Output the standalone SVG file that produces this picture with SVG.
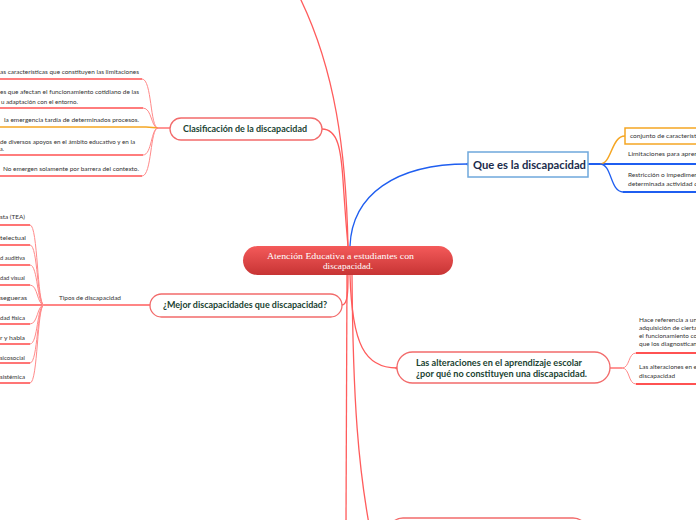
<svg xmlns="http://www.w3.org/2000/svg" width="696" height="520" viewBox="0 0 696 520">
<defs>
<linearGradient id="cg" x1="0" y1="0" x2="0" y2="1">
<stop offset="0" stop-color="#f45a5a"/>
<stop offset="1" stop-color="#c73434"/>
</linearGradient>
<style>
.r{fill:none;stroke:#ff5c5c;stroke-width:1.3}
.rl{fill:none;stroke:#ff8a8a;stroke-width:1}
.ru{fill:none;stroke:#ff5252;stroke-width:1.6}
.b{fill:none;stroke:#1f5ef0;stroke-width:1.3}
.bu{fill:none;stroke:#1f5ef0;stroke-width:2}
.o{fill:none;stroke:#f5a623;stroke-width:1.5}
.node{fill:#fff;stroke:#f26b6b;stroke-width:1.3}
.t{font-family:Lato,"Open Sans",sans-serif;font-size:6.5px;fill:#333}
.ts{font-family:Lato,"Open Sans",sans-serif;font-size:6px;fill:#333}
.h{font-family:Lato,"Open Sans",sans-serif;font-weight:bold;font-size:8.5px;fill:#1b4332}
.c{font-family:"Liberation Serif",serif;font-size:8.5px;fill:#fff}
</style>
</defs>
<rect width="696" height="520" fill="#fff"/>
<g id="connectors">
<path class="r" d="M348,246 C346,150 335,70 300,-2"/>
<path class="r" d="M322,129 C338,129 341,150 343,180 C345,210 347,235 348,246"/>
<path class="r" d="M342,305 C348,305 348,290 348,275"/>
<path class="b" d="M350,246 C352,195 395,164 468,164"/>
<circle cx="468" cy="164" r="1.6" fill="#1f5ef0"/>
<path class="r" d="M350,275 C352,345 365,368 397,368"/>
<circle cx="397" cy="368" r="1.6" fill="#ff5c5c"/>
<path class="r" d="M347,275 L346,522"/>
<path class="r" d="M352,275 C353,400 358,470 372,540"/>
<!-- classification branches -->
<path class="r" d="M157,128 H170"/>
<path class="ru" d="M0,79 H142"/><path class="rl" d="M142,79 C152,79 150,128 158,128"/>
<path class="ru" d="M0,108 H143"/><path class="rl" d="M143,108 C152,108 151,128 158,128"/>
<path class="o" d="M0,127 H146 C152,127 153,128 158,128"/>
<path class="ru" d="M0,155 H143"/><path class="rl" d="M143,155 C152,155 151,128 158,128"/>
<path class="ru" d="M0,176 H142"/><path class="rl" d="M142,176 C152,176 150,128 158,128"/>
<!-- types branches -->
<path class="r" d="M42,305 H150"/>
<path class="ru" d="M0,225 H30"/><path class="rl" d="M30,225 C38,225 37,305 44,305"/>
<path class="ru" d="M0,245 H30"/><path class="rl" d="M30,245 C38,245 37,305 44,305"/>
<path class="ru" d="M0,265 H30"/><path class="rl" d="M30,265 C38,265 37,305 44,305"/>
<path class="ru" d="M0,285 H30"/><path class="rl" d="M30,285 C38,285 37,305 44,305"/>
<path class="ru" d="M0,305 H42"/>
<path class="ru" d="M0,324 H30"/><path class="rl" d="M30,324 C38,324 37,305 44,305"/>
<path class="ru" d="M0,344 H30"/><path class="rl" d="M30,344 C38,344 37,305 44,305"/>
<path class="ru" d="M0,363 H30"/><path class="rl" d="M30,363 C38,363 37,305 44,305"/>
<path class="ru" d="M0,383 H30"/><path class="rl" d="M30,383 C38,383 37,305 44,305"/>
<!-- blue branches -->
<path class="bu" d="M588,164 H696"/>
<path class="o" d="M600,164 C612,164 611,136 625,136"/>
<path class="b" d="M600,164 C612,164 610,192 623,192"/>
<path class="bu" d="M623,192 H696"/>
<!-- alteraciones branches -->
<path class="r" d="M610,368 H622"/>
<path class="rl" d="M622,368 C630,368 628,353 636,353"/>
<path class="ru" d="M636,353 H696" style="stroke-width:2"/>
<path class="rl" d="M622,368 C630,368 628,384 636,384"/>
<path class="ru" d="M636,384 H696" style="stroke-width:2"/>
</g>
<g id="center">
<rect x="243" y="246" width="210" height="29" rx="14.5" fill="url(#cg)"/>
<text class="c" x="267" y="259" textLength="147" lengthAdjust="spacingAndGlyphs">Atención Educativa a estudiantes con</text>
<text class="c" x="323" y="268.5" textLength="50" lengthAdjust="spacingAndGlyphs">discapacidad.</text>
</g>
<g id="clasificacion">
<rect class="node" x="170" y="118" width="152" height="22" rx="11"/>
<text class="h" x="183" y="131.5" textLength="124" lengthAdjust="spacingAndGlyphs">Clasificación de la discapacidad</text>
</g>
<g id="clas-items">
<text class="t" x="0" y="74" textLength="139" lengthAdjust="spacingAndGlyphs">as características que constituyen  las limitaciones</text>
<text class="t" x="0" y="94" textLength="139" lengthAdjust="spacingAndGlyphs">es que afectan el funcionamiento cotidiano de las</text>
<text class="t" x="1" y="104" textLength="77" lengthAdjust="spacingAndGlyphs">u adaptación con el entorno.</text>
<text class="t" x="4" y="122" textLength="135" lengthAdjust="spacingAndGlyphs">la emergencia tardía de determinados procesos.</text>
<text class="t" x="0" y="144" textLength="135" lengthAdjust="spacingAndGlyphs">de diversos apoyos en el ámbito educativo y en la</text>
<text class="t" x="0" y="151" textLength="4" lengthAdjust="spacingAndGlyphs">a.</text>
<text class="t" x="3" y="171" textLength="136" lengthAdjust="spacingAndGlyphs">No emergen solamente por barrera del contexto.</text>
</g>
<g id="mejor">
<rect class="node" x="150" y="294" width="192" height="23" rx="11.5"/>
<text class="h" x="163" y="308" textLength="164" lengthAdjust="spacingAndGlyphs">¿Mejor discapacidades que discapacidad?</text>
</g>
<g id="tipos">
<text class="t" x="59" y="300" textLength="62" lengthAdjust="spacingAndGlyphs">Tipos de discapacidad</text>
<text class="ts" x="0" y="218.5" textLength="25" lengthAdjust="spacingAndGlyphs">sta (TEA)</text>
<text class="ts" x="0" y="240" textLength="26" lengthAdjust="spacingAndGlyphs">telectual</text>
<text class="ts" x="0" y="260" textLength="25" lengthAdjust="spacingAndGlyphs">d auditiva</text>
<text class="ts" x="0" y="279.5" textLength="25" lengthAdjust="spacingAndGlyphs">dad visual</text>
<text class="ts" x="0" y="299.5" textLength="27" lengthAdjust="spacingAndGlyphs">segueras</text>
<text class="ts" x="0" y="320" textLength="25" lengthAdjust="spacingAndGlyphs">dad física</text>
<text class="ts" x="0" y="340" textLength="25" lengthAdjust="spacingAndGlyphs">r y habla</text>
<text class="ts" x="0" y="359.5" textLength="25" lengthAdjust="spacingAndGlyphs">sicosocial</text>
<text class="ts" x="0" y="379" textLength="25" lengthAdjust="spacingAndGlyphs">sistémica</text>
</g>
<g id="quees">
<rect x="468" y="152" width="120" height="25" fill="#fff" stroke="#6fa8dc" stroke-width="1.5"/>
<text x="473" y="168.5" textLength="113" lengthAdjust="spacingAndGlyphs" style="font-family:Lato,'Open Sans',sans-serif;font-weight:bold;font-size:11px;fill:#1a2b4c">Que es la discapacidad</text>
</g>
<g id="quees-items">
<rect x="625" y="128" width="80" height="16" fill="#fff" stroke="#f5a623" stroke-width="1.5"/>
<text class="ts" x="630" y="138" textLength="68" lengthAdjust="spacingAndGlyphs">conjunto de característi</text>
<text class="ts" x="628" y="156" textLength="70" lengthAdjust="spacingAndGlyphs">Limitaciones  para apren</text>
<text class="ts" x="628" y="177" textLength="70" lengthAdjust="spacingAndGlyphs">Restricción o impedimen</text>
<text class="ts" x="628" y="186" textLength="70" lengthAdjust="spacingAndGlyphs">determinada actividad d</text>
</g>
<g id="alteraciones">
<rect class="node" x="397" y="352" width="213" height="31" rx="15.5"/>
<text class="h" x="416" y="366" textLength="166" lengthAdjust="spacingAndGlyphs" style="font-size:9px">Las alteraciones en el aprendizaje escolar</text>
<text class="h" x="416" y="377" textLength="171" lengthAdjust="spacingAndGlyphs" style="font-size:9px">¿por qué no constituyen una discapacidad.</text>
</g>
<g id="alteraciones-items">
<text class="ts" x="639" y="322" textLength="58" lengthAdjust="spacingAndGlyphs">Hace referencia a un</text>
<text class="ts" x="639" y="330" textLength="58" lengthAdjust="spacingAndGlyphs">adquisición de cierta</text>
<text class="ts" x="639" y="338" textLength="58" lengthAdjust="spacingAndGlyphs">el funcionamiento co</text>
<text class="ts" x="639" y="345.5" textLength="58" lengthAdjust="spacingAndGlyphs">que los diagnostican</text>
<text class="ts" x="639" y="369" textLength="58" lengthAdjust="spacingAndGlyphs">Las alteraciones en e</text>
<text class="ts" x="639" y="378" textLength="36" lengthAdjust="spacingAndGlyphs">discapacidad</text>
</g>
<g id="bottom-node">
<rect class="node" x="388" y="518" width="200" height="30" rx="15"/>
</g>
</svg>
